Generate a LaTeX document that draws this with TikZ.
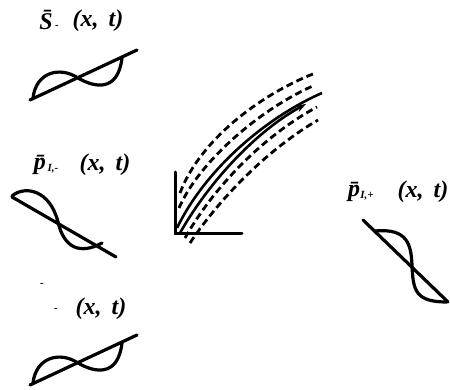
\documentclass[tikz,border=0pt]{standalone}
\usepackage{fontspec}
\setmainfont{Liberation Serif}
\usetikzlibrary{arrows.meta}
\tikzset{
  wave/.style={line width=3.2pt, line cap=round, line join=round},
  axisline/.style={line width=3pt, line cap=round},
  dcurve/.style={line width=2.8pt, dash pattern=on 7pt off 4pt},
  scurve/.style={line width=2.6pt},
  lbl/.style={inner sep=0pt, font=\bfseries\itshape\fontsize{24}{26}\selectfont},
  sub/.style={inner sep=0pt, font=\bfseries\itshape\fontsize{11}{12}\selectfont},
}
\begin{document}
\begin{tikzpicture}[x=1pt,y=-1pt]
\useasboundingbox (0,0) rectangle (450,390);
% labels
\node[lbl] (s1) at (46,20) {\={S}};
\node[sub] (s1s) at (57,27) {-};
\node[lbl] (s1x) at (98,21) {(x,\, t)};
\node[lbl] (p1) at (40,165) {\={p}};
\node[sub] (p1s) at (53,169) {I,-};
\node[lbl] (p1x) at (105,165) {(x,\, t)};
\node[sub] (q1b) at (42,285) {-};
\node[sub] (q1s) at (56,310) {-};
\node[lbl] (q1x) at (101,309) {(x,\, t)};
\node[lbl] (p2) at (354,192) {\={p}};
\node[sub] (p2s) at (367,196) {I,+};
\node[lbl] (p2x) at (423,192) {(x,\, t)};
% wave 1
\draw[wave] (30,100) -- (137,50);
\draw[wave] (33,98) .. controls (36,72) and (60,66) .. (78,78)
  .. controls (95,88) and (118,92) .. (122,58);
% wave 3
\begin{scope}[yshift=-285pt]
\draw[wave] (30,100) -- (137,50);
\draw[wave] (33,98) .. controls (36,72) and (60,66) .. (78,78)
  .. controls (95,88) and (118,92) .. (122,58);
\end{scope}
% wave 2
\draw[wave] (12,197) -- (116,257);
\draw[wave] (12,196) .. controls (25,185) and (50,190) .. (58,222)
  .. controls (64,248) and (80,255) .. (102,243);
% right wave
\draw[wave] (363,220) -- (448,302);
\draw[wave] (375,231) .. controls (408,228) and (411,245) .. (412,265)
  .. controls (413,290) and (415,302) .. (447,302);
% axes
\draw[axisline] (175,172) -- (175,234) -- (242,234);
% curves
\draw[dcurve] (180,193) .. controls (200,140) and (260,95) .. (313,74);
\draw[dcurve] (179,208) .. controls (200,160) and (262,108) .. (315,85);
\draw[scurve] (177,228) .. controls (205,170) and (265,118) .. (322,93);
\draw[scurve,-{Stealth[length=10pt,width=7pt]}] (180,233) .. controls (210,180) and (258,130) .. (306,104);
\draw[dcurve] (185,238) .. controls (215,185) and (265,135) .. (317,107);
\draw[dcurve] (190,243) .. controls (222,195) and (270,148) .. (318,120);
\end{tikzpicture}
\end{document}
